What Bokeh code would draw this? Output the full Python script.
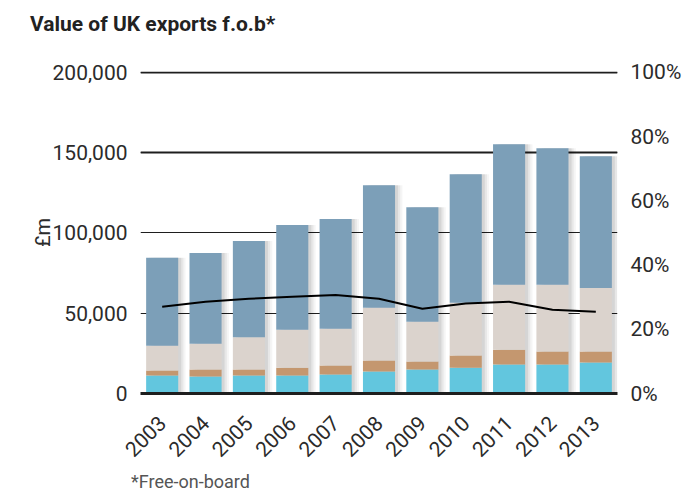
from bokeh.plotting import figure
from bokeh.models import (Range1d, LinearAxis, FixedTicker, Grid, Div,
                          CustomJSTickFormatter, NumeralTickFormatter)
from bokeh.layouts import column
from bokeh.transform import dodge
from bokeh.embed import file_html
from bokeh.resources import INLINE

# ---- data ----
years = ["2003", "2004", "2005", "2006", "2007", "2008", "2009", "2010", "2011", "2012", "2013"]
band_cyan = [11200, 10600, 11200, 11200, 11800, 13700, 14900, 16100, 18000, 18000, 19300]
band_brown = [3100, 4300, 3700, 4900, 5600, 6800, 5000, 7500, 9300, 8100, 6800]
band_beige = [15500, 16100, 20100, 23600, 23000, 32900, 24800, 32900, 40400, 41600, 39700]
band_blue = [54700, 56600, 60000, 65300, 68300, 76400, 71400, 80100, 87600, 85100, 82000]
share_pct = [27.0, 28.6, 29.5, 30.1, 30.7, 29.5, 26.4, 28.0, 28.6, 26.1, 25.5]
left_ticks = [0, 50000, 100000, 150000, 200000]
right_ticks = [0, 20, 40, 60, 80, 100]

title_text = "Value of UK exports f.o.b*"
footnote_text = "*Free-on-board"

totals = [a + b + c + d for a, b, c, d in zip(band_cyan, band_brown, band_beige, band_blue)]

FONT = "Roboto"
TXT = "#2b2b2b"

p = figure(x_range=years, y_range=Range1d(0, 200600),
           width=684, height=436, output_backend="svg", toolbar_location=None,
           min_border_left=140, min_border_right=64, min_border_top=35, min_border_bottom=79)
p.outline_line_color = None
p.background_fill_color = "white"

data = dict(year=years, cyan=band_cyan, brown=band_brown, beige=band_beige,
            blue=band_blue, total=totals, pct=share_pct)

# soft shadow behind the bars
for off, alpha in [(0.17, 0.04), (0.12, 0.055), (0.07, 0.075)]:
    p.vbar(x=dodge("year", off, range=p.x_range), top="total", bottom=-2500, width=0.74,
           source=data, fill_color="black", fill_alpha=alpha, line_color=None)

p.vbar_stack(["cyan", "brown", "beige", "blue"], x="year", width=0.74, source=data,
             color=["#62C6DE", "#C4976F", "#DBD3CD", "#7C9FB8"], line_color=None)

# right axis (share, %)
p.extra_y_ranges = {"pct": Range1d(0, 100.3)}
p.line(x="year", y="pct", source=data, y_range_name="pct", line_color="black", line_width=2)

ax_r = LinearAxis(y_range_name="pct", ticker=FixedTicker(ticks=right_ticks))
ax_r.formatter = CustomJSTickFormatter(code="return tick + '%';")
ax_r.axis_line_color = None
ax_r.major_tick_line_color = None
ax_r.minor_tick_line_color = None
ax_r.major_label_standoff = 7
ax_r.major_label_text_font = FONT
ax_r.major_label_text_font_size = "21px"
ax_r.major_label_text_color = TXT
p.add_layout(ax_r, "right")

# left axis
ya = p.yaxis[0]
ya.ticker = FixedTicker(ticks=left_ticks)
ya.formatter = NumeralTickFormatter(format="0,0")
ya.axis_line_color = None
ya.major_tick_line_color = None
ya.minor_tick_line_color = None
ya.major_label_standoff = 7
ya.major_label_text_font = FONT
ya.major_label_text_font_size = "21px"
ya.major_label_text_color = TXT
ya.axis_label = "£m"
ya.axis_label_standoff = -5
ya.axis_label_text_font = FONT
ya.axis_label_text_font_style = "normal"
ya.axis_label_text_font_size = "20px"
ya.axis_label_text_color = TXT

# x axis: thick baseline
xa = p.xaxis[0]
xa.axis_line_width = 3
xa.axis_line_color = "#1e1e1e"
xa.major_tick_line_color = None
xa.minor_tick_line_color = None
xa.major_label_orientation = 0.785398
xa.major_label_standoff = 20
xa.major_label_text_font = FONT
xa.major_label_text_font_size = "21px"
xa.major_label_text_color = TXT

# grid lines
p.xgrid.grid_line_color = None
p.ygrid.grid_line_color = "#1e1e1e"
p.ygrid.grid_line_width = 1
p.add_layout(Grid(dimension=1, ticker=FixedTicker(ticks=[150000, 200000]),
                  grid_line_color="#1e1e1e", grid_line_width=2))

# title and footnote
title_div = Div(
    text=('<div style="padding:12px 0 0 30px; font-family:Roboto; font-weight:bold; '
          'font-size:21px; line-height:24px; color:#222222; white-space:nowrap;">'
          + title_text + '</div>'),
    width=684, height=36, margin=(0, 0, 0, 0))
foot_div = Div(
    text=('<div style="padding:0 0 0 131px; font-family:Roboto; font-size:18px; '
          'line-height:19px; color:#555555; white-space:nowrap;">'
          + footnote_text + '</div>'),
    width=684, height=19, margin=(0, 0, 0, 0))

layout = column(title_div, p, foot_div, spacing=0)

open("out.html", "w").write(file_html(layout, INLINE))
